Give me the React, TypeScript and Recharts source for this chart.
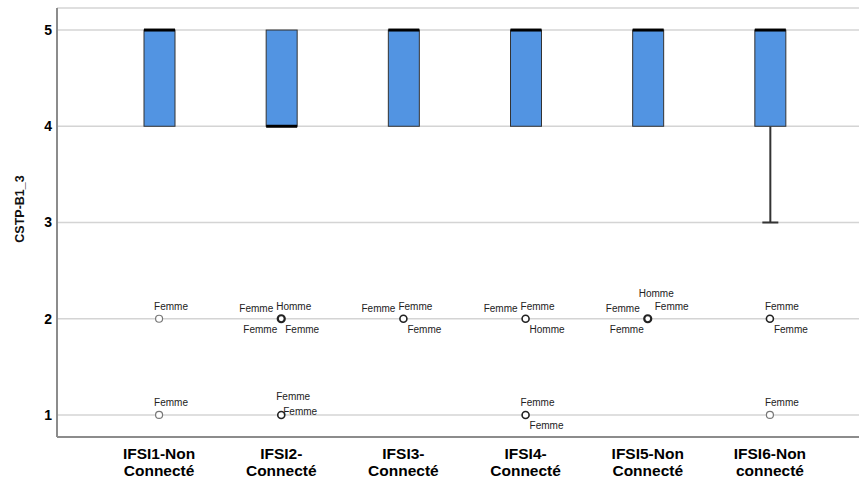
import { ComposedChart, Bar, Scatter, XAxis, YAxis, CartesianGrid } from 'recharts'

const categories = [
  'IFSI1-Non\nConnecté',
  'IFSI2-\nConnecté',
  'IFSI3-\nConnecté',
  'IFSI4-\nConnecté',
  'IFSI5-Non\nConnecté',
  'IFSI6-Non\nconnecté',
]
const mins = [4, 4, 4, 4, 4, 3]
const q1s = [4, 4, 4, 4, 4, 4]
const medians = [5, 4, 5, 5, 5, 5]
const q3s = [5, 5, 5, 5, 5, 5]
const maxs = [5, 5, 5, 5, 5, 5]

// outliers: one row at 2, one at 1 (null = none)
const outlierMid = [2, 2, 2, 2, 2, 2]
const outlierLow = [1, 1, null, 1, null, 1]
const midLabels = [
  ['Femme'],
  ['Femme', 'Homme', 'Femme', 'Femme'],
  ['Femme', 'Femme', 'Femme'],
  ['Femme', 'Femme', 'Homme'],
  ['Homme', 'Femme', 'Femme', 'Femme'],
  ['Femme', 'Femme'],
]
const lowLabels = [['Femme'], ['Femme', 'Femme'], [], ['Femme', 'Femme'], [], ['Femme']]

// label layout (style only)
const midPlacements = [
  ['above'],
  ['left', 'above', 'belowLeft', 'belowRight'],
  ['left', 'above', 'belowRight'],
  ['left', 'above', 'belowRight'],
  ['top', 'left', 'aboveRight', 'belowLeft'],
  ['above', 'belowRight'],
]
const lowPlacements = [['above'], ['aboveHigh', 'right'], [], ['above', 'belowRight'], [], ['above']]
const placeOffsets: Record<string, { dx: number; dy: number; anchor: 'start' | 'end' }> = {
  above: { dx: -5, dy: -8.5, anchor: 'start' },
  aboveHigh: { dx: -5, dy: -14.5, anchor: 'start' },
  top: { dx: -9, dy: -22, anchor: 'start' },
  left: { dx: -8, dy: -7, anchor: 'end' },
  aboveRight: { dx: 7, dy: -8.5, anchor: 'start' },
  right: { dx: 2, dy: 0, anchor: 'start' },
  belowRight: { dx: 4, dy: 14, anchor: 'start' },
  belowLeft: { dx: -4, dy: 14, anchor: 'end' },
}

const FONT = '"Liberation Sans", Arial, sans-serif'
const BOX_FILL = '#5294e2'

const rows = categories.map((cat, i) => ({
  idx: i,
  cat,
  range: [mins[i], maxs[i]],
  min: mins[i],
  q1: q1s[i],
  median: medians[i],
  q3: q3s[i],
  max: maxs[i],
  mid: outlierMid[i],
  low: outlierLow[i],
}))

function BoxShape(props: any) {
  const { x, y, width, height, payload } = props
  const { min, q1, median, q3, max } = payload
  const toPx = (v: number) => y + (height * (max - v)) / (max - min)
  const cx = x + width / 2
  return (
    <g>
      {min < q1 && (
        <g stroke="#333" strokeWidth={2}>
          <line x1={cx} x2={cx} y1={toPx(q1)} y2={toPx(min)} />
          <line x1={cx - 8} x2={cx + 8} y1={toPx(min)} y2={toPx(min)} />
        </g>
      )}
      <rect x={x} y={toPx(q3)} width={width} height={toPx(q1) - toPx(q3)} fill={BOX_FILL} stroke="#333" strokeWidth={1} />
      <line x1={x} x2={x + width} y1={toPx(median)} y2={toPx(median)} stroke="#000" strokeWidth={3} />
    </g>
  )
}

function makeOutlier(key: 'mid' | 'low') {
  return function OutlierShape(props: any) {
    const { cx, cy, payload } = props
    if (payload[key] == null || cx == null || cy == null || isNaN(cy)) return <g />
    const labels = key === 'mid' ? midLabels[payload.idx] : lowLabels[payload.idx]
    const places = key === 'mid' ? midPlacements[payload.idx] : lowPlacements[payload.idx]
    const n = labels.length
    const sw = n >= 4 ? 2.2 : n > 1 ? 1.6 : 1.2
    const stroke = n > 1 ? '#222' : '#777'
    return (
      <g>
        <circle cx={cx} cy={cy} r={3.5} fill="#fff" stroke={stroke} strokeWidth={sw} />
        {labels.map((t, i) => {
          const p = placeOffsets[places[i]]
          return (
            <text key={i} x={cx + p.dx} y={cy + p.dy} textAnchor={p.anchor} fontSize={10} fontFamily={FONT} fill="#222">
              {t}
            </text>
          )
        })}
      </g>
    )
  }
}

function CategoryTick({ x, y, payload }: any) {
  const lines = String(payload.value).split('\n')
  return (
    <text x={x} y={y + 22} textAnchor="middle" fontSize={15.5} fontWeight="bold" fontFamily={FONT} fill="#000">
      {lines.map((l, i) => (
        <tspan key={i} x={x} dy={i === 0 ? 0 : 16.5}>
          {l}
        </tspan>
      ))}
    </text>
  )
}

export default function App() {
  return (
    <div style={{ position: 'absolute', left: 0, top: 0, width: 859, height: 478, background: '#fff', fontFamily: FONT }}>
      <ComposedChart width={859} height={478} data={rows} margin={{ top: 8, right: 0, bottom: 0, left: 0 }}>
        <CartesianGrid vertical={false} stroke="#d4d4d4" strokeWidth={1.5} />
        <XAxis
          dataKey="cat"
          type="category"
          height={41}
          padding={{ left: 41, right: 28 }}
          tickLine={false}
          tickSize={0}
          tickMargin={0}
          interval={0}
          axisLine={{ stroke: '#8c8c8c', strokeWidth: 2 }}
          tick={<CategoryTick />}
        />
        <YAxis
          type="number"
          domain={[0.771, 5.229]}
          ticks={[1, 2, 3, 4, 5]}
          width={57}
          tickLine={false}
          tickSize={3}
          tickMargin={2}
          axisLine={{ stroke: '#8c8c8c', strokeWidth: 2 }}
          tick={{ fontSize: 14, fontWeight: 'bold', fill: '#000', fontFamily: FONT }}
          label={{
            content: () => (
              <text transform="translate(24, 209) rotate(-90)" textAnchor="middle" fontSize={12.5} fontWeight="bold" fontFamily={FONT} fill="#111">
                CSTP-B1_3
              </text>
            ),
          }}
        />
        <Bar dataKey="range" barSize={31} shape={BoxShape} isAnimationActive={false} />
        <Scatter dataKey="mid" shape={makeOutlier('mid')} isAnimationActive={false} />
        <Scatter dataKey="low" shape={makeOutlier('low')} isAnimationActive={false} />
      </ComposedChart>
    </div>
  )
}
